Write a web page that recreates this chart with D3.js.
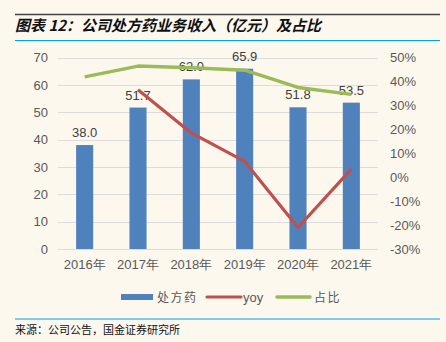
<!DOCTYPE html>
<html><head><meta charset="utf-8">
<script src="https://cdn.jsdelivr.net/npm/d3@7"></script>
<style>
html,body{margin:0;padding:0;background:#fdf8ee;}
svg{display:block;}
</style></head>
<body>
<svg id="c" width="446" height="342"></svg>
<script>
const categories = ["2016年","2017年","2018年","2019年","2020年","2021年"];
const revenue = [38.0, 51.7, 62.0, 65.9, 51.8, 53.5];
const yoy = [null, 36.5, 18.5, 6.6, -21.0, 3.4];
const share = [41.9, 46.4, 45.7, 44.7, 37.5, 34.6];
const leftTicks = [0,10,20,30,40,50,60,70];
const rightTicks = [-30,-20,-10,0,10,20,30,40,50];
const seriesNames = ["处方药","yoy","占比"];
const colors = {bar:"#4f81bd", yoy:"#c0504d", share:"#9bbb59"};

const svg = d3.select("#c");
const W=446,H=342;
svg.append("rect").attr("width",W).attr("height",H).attr("fill","#fdf8ee");

// header lines
svg.append("line").attr("x1",15).attr("x2",440).attr("y1",14.5).attr("y2",14.5).attr("stroke","#404040").attr("stroke-width",1.5);
svg.append("text").attr("x",15).attr("y",31).attr("font-family","'Noto Sans CJK SC','Liberation Sans',sans-serif")
  .attr("font-size",15).attr("font-weight","bold").attr("font-style","italic").attr("fill","#111")
  .text("图表 12：公司处方药业务收入（亿元）及占比");
svg.append("line").attr("x1",15).attr("x2",440).attr("y1",40.5).attr("y2",40.5).attr("stroke","#00a0e9").attr("stroke-width",1.2);
svg.append("line").attr("x1",15).attr("x2",440).attr("y1",319).attr("y2",319).attr("stroke","#00a0e9").attr("stroke-width",1.2);
svg.append("text").attr("x",15).attr("y",334).attr("font-family","'Noto Sans CJK SC',serif")
  .attr("font-size",11).attr("fill","#111").text("来源：公司公告，国金证券研究所");

const x = d3.scaleBand().domain(categories).range([58,378]).padding(0);
const yL = d3.scaleLinear().domain([0,70]).range([249,57.5]);
const yR = d3.scaleLinear().domain([-30,50]).range([249,57.5]);
const font = "'Liberation Sans',Arial,sans-serif";

// gridlines
svg.append("g").selectAll("line").data(leftTicks).join("line")
  .attr("x1",58).attr("x2",378).attr("y1",d=>Math.round(yL(d))+0.5).attr("y2",d=>Math.round(yL(d))+0.5)
  .attr("stroke","#dcdcdc").attr("stroke-width",1);

// left axis
const gl = svg.append("g").attr("transform","translate(58,0)")
  .call(d3.axisLeft(yL).tickValues(leftTicks).tickSize(0).tickPadding(10));
gl.select(".domain").remove();
gl.selectAll("text").attr("font-family",font).attr("font-size",13).attr("fill","#595959");

// right axis
const gr = svg.append("g").attr("transform","translate(378,0)")
  .call(d3.axisRight(yR).tickValues(rightTicks).tickSize(0).tickPadding(12).tickFormat(d=>d+"%"));
gr.select(".domain").remove();
gr.selectAll("text").attr("font-family",font).attr("font-size",13).attr("fill","#595959");

// x axis
const gx = svg.append("g").attr("transform","translate(0,249)")
  .call(d3.axisBottom(x).tickSize(0).tickPadding(11));
gx.select(".domain").remove();
gx.selectAll("text").attr("font-family",font).attr("font-size",13).attr("fill","#595959");

// bars
const bw = x.bandwidth()*0.32;
svg.append("g").selectAll("rect").data(revenue).join("rect")
  .attr("x",(d,i)=>x(categories[i])+x.bandwidth()/2-bw/2)
  .attr("width",bw)
  .attr("y",d=>yL(d)).attr("height",d=>yL(0)-yL(d))
  .attr("fill",colors.bar);

// data labels
svg.append("g").selectAll("text").data(revenue).join("text")
  .attr("x",(d,i)=>x(categories[i])+x.bandwidth()/2)
  .attr("y",d=>yL(d)-8)
  .attr("text-anchor","middle").attr("font-family",font).attr("font-size",13).attr("fill","#404040")
  .text(d=>d.toFixed(1));

const cx = i=>x(categories[i])+x.bandwidth()/2;
const lineYoy = d3.line().defined(d=>d!==null).x((d,i)=>cx(i)).y(d=>yR(d));
svg.append("path").datum(yoy).attr("d",lineYoy).attr("fill","none").attr("stroke",colors.yoy)
  .attr("stroke-width",3.2).attr("stroke-linejoin","round");
const lineShare = d3.line().x((d,i)=>cx(i)).y(d=>yR(d));
svg.append("path").datum(share).attr("d",lineShare).attr("fill","none").attr("stroke",colors.share)
  .attr("stroke-width",3.5).attr("stroke-linejoin","round");

// legend
const lg = svg.append("g");
const ly = 297;
lg.append("rect").attr("x",121).attr("y",ly-3).attr("width",32).attr("height",6).attr("fill",colors.bar);
lg.append("text").attr("x",157).attr("y",ly+4.5).attr("font-family","'Noto Sans CJK SC',sans-serif").attr("font-size",12)
  .attr("letter-spacing",1.5).attr("fill","#595959").text(seriesNames[0]);
lg.append("line").attr("x1",207).attr("x2",241).attr("y1",ly).attr("y2",ly).attr("stroke",colors.yoy).attr("stroke-width",3.2).attr("stroke-linecap","round");
lg.append("text").attr("x",243).attr("y",ly+4.5).attr("font-family",font).attr("font-size",13).attr("fill","#595959").text(seriesNames[1]);
lg.append("line").attr("x1",277).attr("x2",310).attr("y1",ly).attr("y2",ly).attr("stroke",colors.share).attr("stroke-width",3.5).attr("stroke-linecap","round");
lg.append("text").attr("x",314).attr("y",ly+4.5).attr("font-family","'Noto Sans CJK SC',sans-serif").attr("font-size",12)
  .attr("letter-spacing",1.5).attr("fill","#595959").text(seriesNames[2]);
</script>
</body></html>
